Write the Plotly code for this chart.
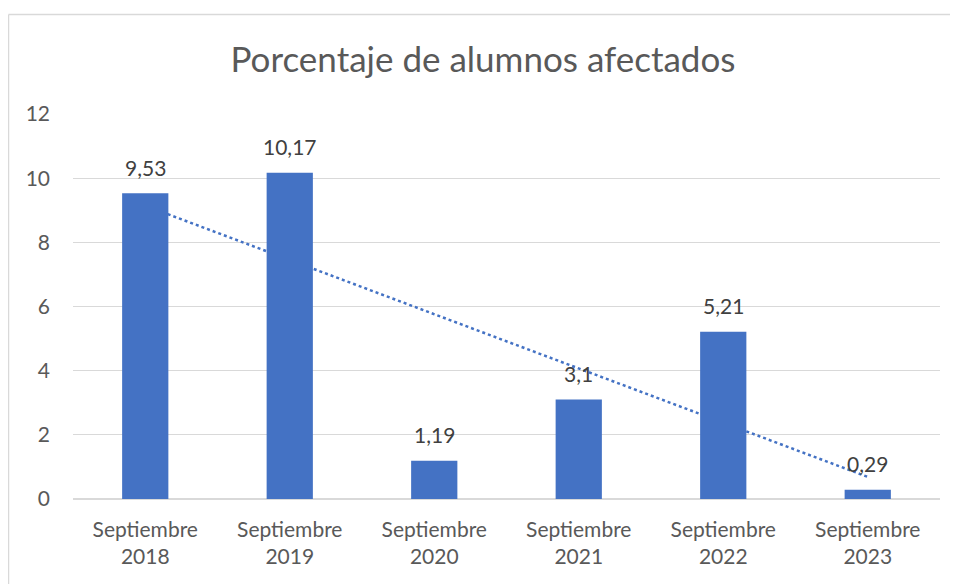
import numpy as np
import plotly.graph_objects as go

categories = ["Septiembre<br>2018", "Septiembre<br>2019", "Septiembre<br>2020",
              "Septiembre<br>2021", "Septiembre<br>2022", "Septiembre<br>2023"]
valores = [9.53, 10.17, 1.19, 3.1, 5.21, 0.29]
etiquetas = [str(v).replace(".", ",") for v in valores]
y_ticks = [0, 2, 4, 6, 8, 10, 12]

# tendencia lineal (como la de Excel)
idx = np.arange(1, len(valores) + 1)
pend, orig = np.polyfit(idx, valores, 1)
tendencia = pend * idx + orig

AZUL = "#4472C4"
GRIS_TXT = "#595959"
FUENTE = "Lato, 'Open Sans', sans-serif"

# la página deja 8px de margen arriba y a la izquierda
W, H = 950, 576
ML, MR, MT, MB = 65, 18, 106, 85
PW, PH = W - ML - MR, H - MT - MB

fig = go.Figure()

# tendencia en el eje de abajo, barras encima
fig.add_trace(go.Scatter(
    x=categories, y=tendencia, mode="lines",
    line=dict(color=AZUL, width=2.5, dash="dot"),
    hoverinfo="skip", showlegend=False,
))
fig.add_trace(go.Bar(
    x=categories, y=valores, yaxis="y2",
    marker=dict(color=AZUL, line=dict(width=0)),
    showlegend=False,
))

# etiquetas de datos encima de cada barra
anotaciones = [
    dict(x=c, y=v, xref="x", yref="y2", text=t, showarrow=False,
         yanchor="middle", yshift=26,
         font=dict(family=FUENTE, size=21, color="#404040"))
    for c, v, t in zip(categories, valores, etiquetas)
]

borde_x = (0.5 - ML) / PW
borde_y = 1 + (MT - 6.5) / PH

fig.update_layout(
    width=W, height=H,
    margin=dict(l=ML, r=MR, t=MT, b=MB),
    paper_bgcolor="white", plot_bgcolor="white",
    bargap=0.68,
    font=dict(family=FUENTE, color=GRIS_TXT),
    title=dict(text="Porcentaje de alumnos afectados", x=0.5, xanchor="center",
               y=1 - 52 / H, yanchor="middle",
               font=dict(family=FUENTE, size=35, color=GRIS_TXT)),
    xaxis=dict(showgrid=False, showline=False, ticks="", ticklabelstandoff=16,
               tickfont=dict(size=21, color=GRIS_TXT)),
    yaxis=dict(range=[0, 12], tickvals=y_ticks, showgrid=True,
               gridcolor="#d9d9d9", gridwidth=1, zeroline=True,
               zerolinecolor="#d9d9d9", zerolinewidth=1.5,
               showline=False, ticks="", ticklabelstandoff=22,
               tickfont=dict(size=21, color=GRIS_TXT)),
    yaxis2=dict(range=[0, 12], overlaying="y", visible=False),
    annotations=anotaciones,
    shapes=[
        dict(type="line", xref="paper", yref="paper",
             x0=borde_x, x1=borde_x, y0=-0.3, y1=borde_y,
             line=dict(color="#d9d9d9", width=1.5)),
        dict(type="line", xref="paper", yref="paper",
             x0=borde_x, x1=1.05, y0=borde_y, y1=borde_y,
             line=dict(color="#d9d9d9", width=1.5)),
    ],
)

fig.write_html("out.html")
